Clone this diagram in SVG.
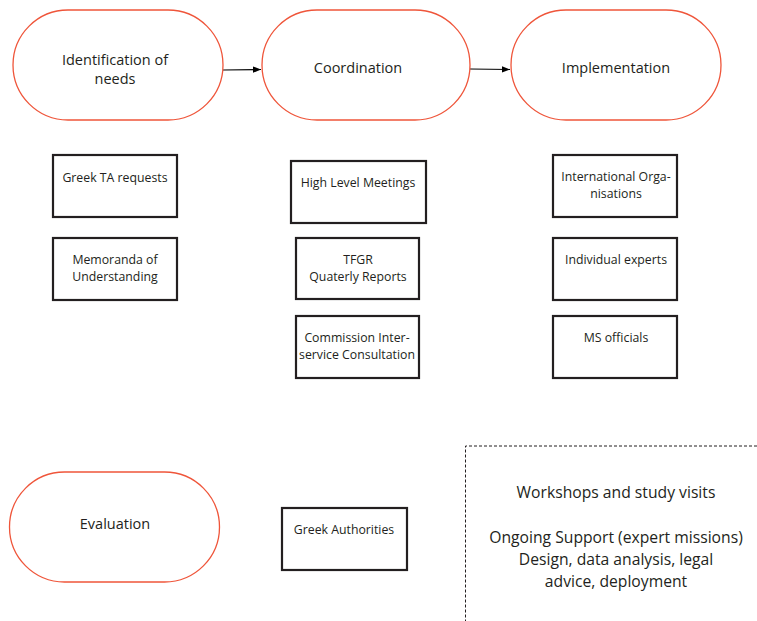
<svg xmlns="http://www.w3.org/2000/svg" width="757" height="621" viewBox="0 0 757 621">
<style>
.pill{fill:#fff;stroke:#ef553a;stroke-width:1.3}
.box{fill:#fff;stroke:#231f20;stroke-width:2.2}
.t{font-family:"Open Sans","Noto Sans",sans-serif;fill:#231f20;text-anchor:middle}
.pt{font-size:14.5px}
.bt{font-size:12.3px}
.dt{font-size:15.7px}
.conn{stroke:#000;stroke-width:1.2;fill:none}
</style>
<defs>
<marker id="arr" viewBox="0 0 10 10" refX="10" refY="5" markerWidth="8" markerHeight="8" markerUnits="userSpaceOnUse" orient="auto">
<path d="M0,1 L10,5 L0,9 z" fill="#000"/>
</marker>
</defs>
<rect width="757" height="621" fill="#fff"/>
<g id="connectors">
<line class="conn" x1="223" y1="70" x2="261" y2="69.5" marker-end="url(#arr)"/>
<line class="conn" x1="470" y1="69" x2="510" y2="69.5" marker-end="url(#arr)"/>
</g>
<g id="identification">
<rect class="pill" x="13" y="10" width="210" height="110" rx="55"/>
<text class="t pt" x="115" y="65">Identification of</text>
<text class="t pt" x="115" y="84">needs</text>
</g>
<g id="coordination">
<rect class="pill" x="262" y="10" width="208" height="110" rx="55"/>
<text class="t pt" x="358" y="73">Coordination</text>
</g>
<g id="implementation">
<rect class="pill" x="511" y="10" width="210" height="110" rx="55"/>
<text class="t pt" x="616" y="73">Implementation</text>
</g>
<g id="greek-ta">
<rect class="box" x="53" y="155" width="124" height="62"/>
<text class="t bt" x="115" y="182">Greek TA requests</text>
</g>
<g id="memoranda">
<rect class="box" x="53" y="238" width="124" height="62"/>
<text class="t bt" x="115" y="264">Memoranda of</text>
<text class="t bt" x="115" y="281">Understanding</text>
</g>
<g id="high-level">
<rect class="box" x="291" y="161" width="135" height="62"/>
<text class="t bt" x="358" y="187">High Level Meetings</text>
</g>
<g id="tfgr">
<rect class="box" x="296" y="238" width="123" height="61"/>
<text class="t bt" x="358" y="264">TFGR</text>
<text class="t bt" x="358" y="281">Quaterly Reports</text>
</g>
<g id="commission">
<rect class="box" x="296" y="316" width="123" height="62"/>
<text class="t bt" x="357" y="342">Commission Inter-</text>
<text class="t bt" x="357" y="359">service Consultation</text>
</g>
<g id="international">
<rect class="box" x="553" y="155" width="124" height="62"/>
<text class="t bt" x="616" y="181">International Orga-</text>
<text class="t bt" x="616" y="198">nisations</text>
</g>
<g id="individual">
<rect class="box" x="553" y="238" width="124" height="62"/>
<text class="t bt" x="616" y="264">Individual experts</text>
</g>
<g id="ms-officials">
<rect class="box" x="553" y="316" width="124" height="62"/>
<text class="t bt" x="616" y="342">MS officials</text>
</g>
<g id="evaluation">
<rect class="pill" x="9.5" y="472" width="210" height="110" rx="55"/>
<text class="t pt" x="115" y="529">Evaluation</text>
</g>
<g id="greek-authorities">
<rect class="box" x="282" y="508" width="125" height="62"/>
<text class="t bt" x="344" y="534">Greek Authorities</text>
</g>
<g id="activities">
<path d="M757,446 H465.5 V621" fill="none" stroke="#231f20" stroke-width="1" stroke-dasharray="3,2"/>
<text class="t dt" x="616" y="498">Workshops and study visits</text>
<text class="t dt" x="616" y="543">Ongoing Support (expert missions)</text>
<text class="t dt" x="616" y="565">Design, data analysis, legal</text>
<text class="t dt" x="616" y="587">advice, deployment</text>
</g>
</svg>
